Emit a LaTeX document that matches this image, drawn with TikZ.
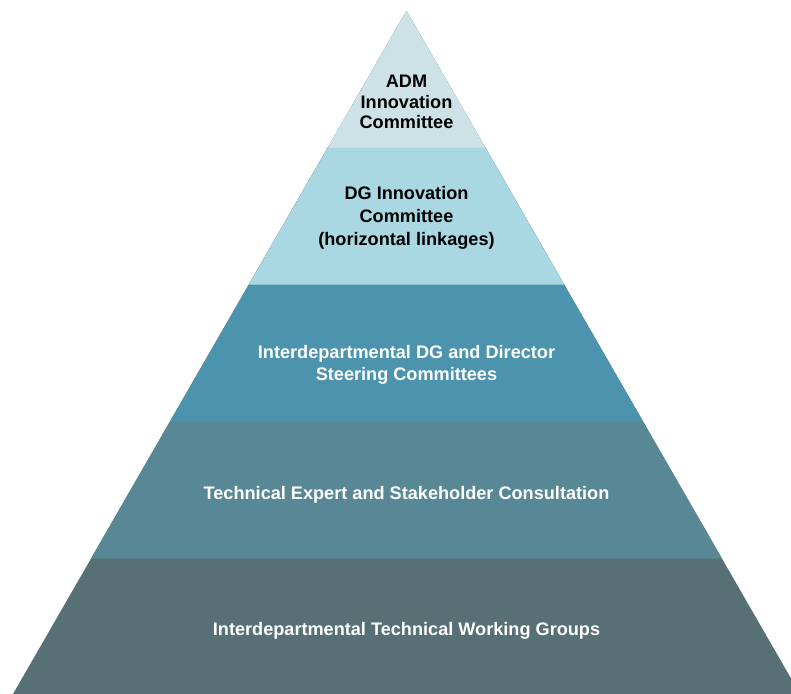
\documentclass[tikz,border=0pt]{standalone}
\usepackage{fontspec}
\setmainfont{Liberation Sans}
\definecolor{tierA}{RGB}{205,226,231}
\definecolor{tierB}{RGB}{169,216,226}
\definecolor{tierC}{RGB}{76,148,173}
\definecolor{tierD}{RGB}{88,136,149}
\definecolor{tierE}{RGB}{86,112,117}
\tikzset{
  tierlabel/.style={align=center, font=\bfseries\fontsize{18.2}{20.5}\selectfont, inner sep=0pt},
  darklabel/.style={tierlabel, text=black},
  lightlabel/.style={tierlabel, text=white}
}
\begin{document}
\begin{tikzpicture}[x=1bp,y=-1bp]
\useasboundingbox (0,0) rectangle (791,694);
\clip (0,0) rectangle (791,694);
% pyramid, apex at (406.5,11); each tier is painted as the triangle
% from the apex down to its lower edge, from the bottom tier upwards
\fill[tierE] (406.5,11) -- (800,694) -- (13,694) -- cycle;
\fill[tierD] (406.5,11) -- (722,558.5) -- (91,558.5) -- cycle;
\fill[tierC] (406.5,11) -- (643,421.5) -- (170,421.5) -- cycle;
\fill[tierB] (406.5,11) -- (564.1,284.5) -- (248.9,284.5) -- cycle;
\fill[tierA] (406.5,11) -- (485.15,147.5) -- (327.85,147.5) -- cycle;
% labels
\node[darklabel] (t1) at (406.5,102) {ADM\\Innovation\\Committee};
\node[darklabel, font=\bfseries\fontsize{18.2}{23}\selectfont] (t2) at (406.5,217.5) {DG Innovation\\Committee\\(horizontal linkages)};
\node[lightlabel, font=\bfseries\fontsize{18.2}{22}\selectfont] (t3) at (406.5,364.5) {Interdepartmental DG and Director\\Steering Committees};
\node[lightlabel] (t4) at (406.5,494.5) {Technical Expert and Stakeholder Consultation};
\node[lightlabel] (t5) at (406.5,630.5) {Interdepartmental Technical Working Groups};
\end{tikzpicture}
\end{document}
